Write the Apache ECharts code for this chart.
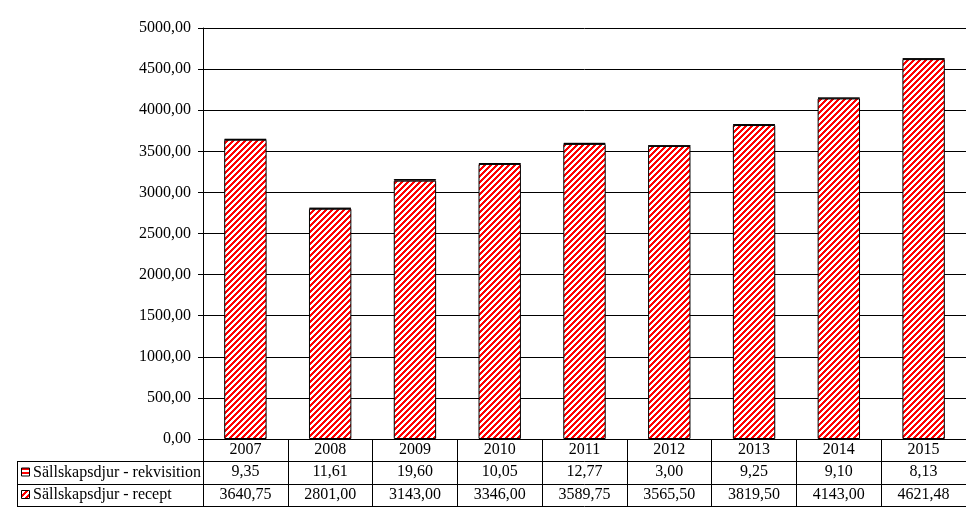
<!DOCTYPE html>
<html><head><meta charset="utf-8">
<script src="https://cdn.jsdelivr.net/npm/echarts@6/dist/echarts.min.js"></script>
<style>html,body{margin:0;padding:0;background:#fff}#c{width:966px;height:531px}</style>
</head><body><div id="c"></div>
<script>
const years = ['2007','2008','2009','2010','2011','2012','2013','2014','2015'];
const rekvisition = [9.35, 11.61, 19.60, 10.05, 12.77, 3.00, 9.25, 9.10, 8.13];
const recept = [3640.75, 2801.00, 3143.00, 3346.00, 3589.75, 3565.50, 3819.50, 4143.00, 4621.48];
const seriesNames = ['Sällskapsdjur - rekvisition', 'Sällskapsdjur - recept'];

const FONT = 'Liberation Serif';
const fmt = v => v.toFixed(2).replace('.', ',');

function makeTile(size, test) {
  const cv = document.createElement('canvas');
  cv.width = size; cv.height = size;
  const ctx = cv.getContext('2d');
  const img = ctx.createImageData(size, size);
  for (let y = 0; y < size; y++) for (let x = 0; x < size; x++) {
    const i = (y * size + x) * 4;
    const red = test(x, y);
    img.data[i] = 255; img.data[i+1] = red ? 0 : 255; img.data[i+2] = red ? 0 : 255; img.data[i+3] = 255;
  }
  ctx.putImageData(img, 0, 0);
  return cv;
}
const diagTile = makeTile(6, (x, y) => ((x + y) % 6) < 3);
const horizTile = makeTile(4, (x, y) => (y % 4) < 2);
const diagFill = {image: diagTile, repeat: 'repeat'};
const horizFill = {image: horizTile, repeat: 'repeat'};

const chart = echarts.init(document.getElementById('c'), null, {renderer: 'canvas'});
const gl = 203, gt = 28, gb = 92;
const textStyle = {fontFamily: FONT, fontSize: 16, color: '#000'};

const option = {
  animation: false,
  backgroundColor: '#fff',
  textStyle: textStyle,
  grid: {left: gl, right: 0, top: gt, bottom: gb, containLabel: false},
  xAxis: [
    {type: 'category', data: years, position: 'bottom',
     axisLine: {show: true, lineStyle: {color: '#000', width: 1}},
     axisTick: {show: true, interval: 0, length: 67, lineStyle: {color: '#000'}},
     axisLabel: {interval: 0, margin: 11, verticalAlign: 'middle', fontFamily: FONT, fontSize: 16, color: '#000'},
     splitLine: {show: false}},
    {type: 'category', data: years, position: 'bottom', offset: 22,
     axisLine: {show: true, lineStyle: {color: '#000', width: 1}},
     axisTick: {show: false},
     axisLabel: {interval: 0, margin: 11, verticalAlign: 'middle', fontFamily: FONT, fontSize: 16, color: '#000',
       formatter: (v, i) => fmt(rekvisition[i])}},
    {type: 'category', data: years, position: 'bottom', offset: 45,
     axisLine: {show: true, lineStyle: {color: '#000', width: 1}},
     axisTick: {show: false},
     axisLabel: {interval: 0, margin: 11, verticalAlign: 'middle', fontFamily: FONT, fontSize: 16, color: '#000',
       formatter: (v, i) => fmt(recept[i])}},
    {type: 'category', data: years, position: 'bottom', offset: 67,
     axisLine: {show: true, lineStyle: {color: '#000', width: 1}},
     axisTick: {show: false}, axisLabel: {show: false}}
  ],
  yAxis: {
    type: 'value', min: 0, max: 5000, interval: 500,
    axisLine: {show: true, lineStyle: {color: '#000'}},
    axisTick: {show: true, length: 5, lineStyle: {color: '#000'}},
    axisLabel: {margin: 12, fontFamily: FONT, fontSize: 16, color: '#000', formatter: v => fmt(v)},
    splitLine: {show: true, lineStyle: {color: '#000', width: 1}}
  },
  series: [
    {name: seriesNames[1], type: 'bar', stack: 'a', data: recept, xAxisIndex: 0,
     barWidth: '50%',
     itemStyle: {color: diagFill, borderColor: '#000', borderWidth: 1}},
    {name: seriesNames[0], type: 'bar', stack: 'a', data: rekvisition, xAxisIndex: 0,
     barWidth: '50%',
     itemStyle: {color: horizFill, borderColor: '#000', borderWidth: 1}}
  ]
};
chart.setOption(option);

// legend cell of the data table (left of the plot)
const rowY = [461, 484, 506];
const lx = 17;
const g = [];
rowY.forEach(y => g.push({type: 'line', shape: {x1: lx, y1: y + 0.5, x2: gl, y2: y + 0.5}, style: {stroke: '#000', lineWidth: 1}}));
g.push({type: 'line', shape: {x1: lx + 0.5, y1: rowY[0], x2: lx + 0.5, y2: rowY[2]}, style: {stroke: '#000', lineWidth: 1}});
g.push({type: 'line', shape: {x1: gl + 0.5, y1: rowY[0], x2: gl + 0.5, y2: rowY[2]}, style: {stroke: '#000', lineWidth: 1}});
const fills = [horizFill, diagFill];
seriesNames.forEach((n, k) => {
  const cy = (rowY[k] + rowY[k + 1]) / 2;
  g.push({type: 'rect', shape: {x: 21.5, y: cy - 4.5, width: 8, height: 8},
          style: {fill: fills[k], stroke: '#000', lineWidth: 1}});
  g.push({type: 'text', x: 33, y: cy, style: {text: n, font: '16px "' + FONT + '"', fill: '#000', verticalAlign: 'middle', align: 'left'}});
});
chart.setOption({graphic: g});
</script></body></html>
